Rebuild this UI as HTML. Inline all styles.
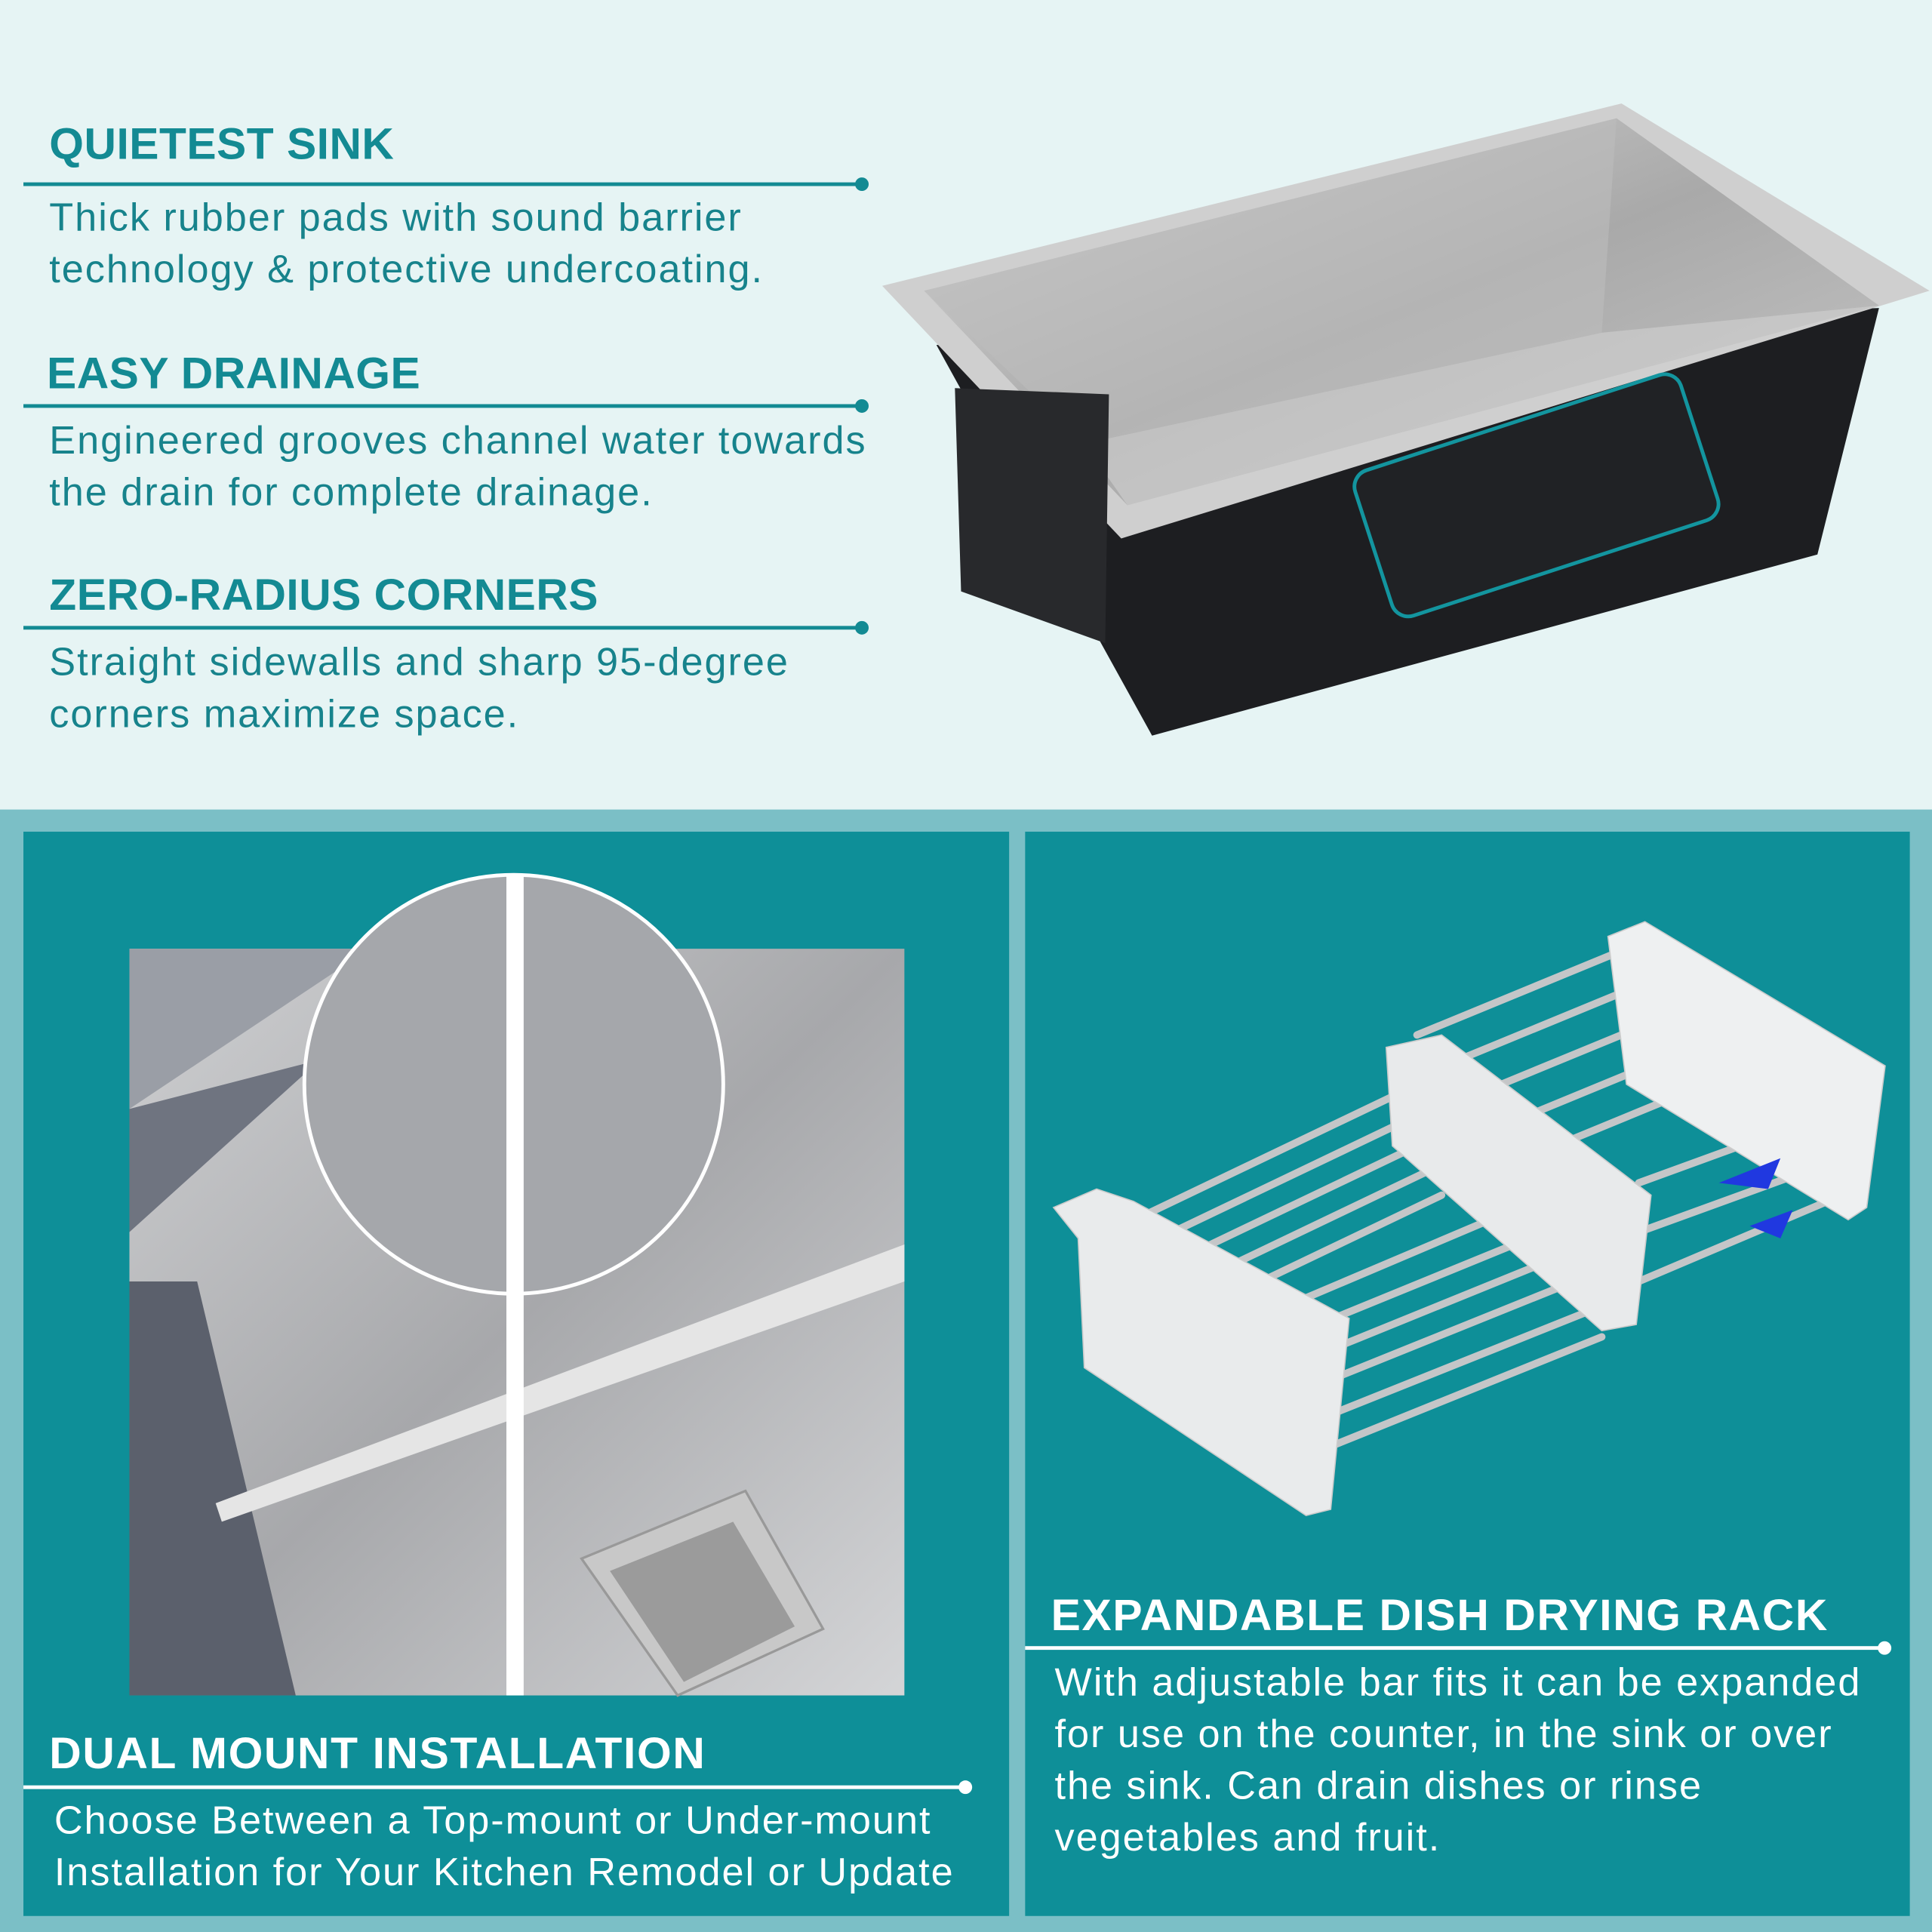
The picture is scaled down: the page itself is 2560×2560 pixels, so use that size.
<!DOCTYPE html>
<html><head><meta charset="utf-8"><style>
html,body{margin:0;padding:0;width:2560px;height:2560px;overflow:hidden;background:#e6f4f4}
#w{position:absolute;left:0;top:0;width:1568px;height:1568px;transform:scale(1.63265);transform-origin:0 0;font-family:"Liberation Sans",sans-serif}
.a{position:absolute;white-space:nowrap}
.h{font-weight:bold;font-size:36px;color:#138a93;letter-spacing:0.3px}
.b{font-size:32px;line-height:42px;color:#17838c;letter-spacing:1.2px}
.ln{position:absolute;height:3px;background:#138a93}
.dot{position:absolute;width:11px;height:11px;border-radius:50%;background:#138a93}
.hw{font-weight:bold;font-size:36px;color:#fff;letter-spacing:1px}
.bw{font-size:32px;line-height:42px;color:#fff;letter-spacing:1.2px}
.lw{position:absolute;height:3px;background:#fff}
.dw{position:absolute;width:11px;height:11px;border-radius:50%;background:#fff}
</style></head><body><div id="w">
<div class="a h" style="left:40px;top:96px">QUIETEST SINK</div>
<div class="ln" style="left:19px;top:148px;width:680px"></div><div class="dot" style="left:694px;top:144px"></div>
<div class="a b" style="left:40px;top:155px">Thick rubber pads with sound barrier<br>technology &amp; protective undercoating.</div>
<div class="a h" style="left:38px;top:282px">EASY DRAINAGE</div>
<div class="ln" style="left:19px;top:328px;width:680px"></div><div class="dot" style="left:694px;top:324px"></div>
<div class="a b" style="left:40px;top:336px">Engineered grooves channel water towards<br>the drain for complete drainage.</div>
<div class="a h" style="left:40px;top:462px">ZERO-RADIUS CORNERS</div>
<div class="ln" style="left:19px;top:508px;width:680px"></div><div class="dot" style="left:694px;top:504px"></div>
<div class="a b" style="left:40px;top:516px">Straight sidewalls and sharp 95-degree<br>corners maximize space.</div>

<svg class="a" style="left:700px;top:70px" width="868" height="540" viewBox="700 70 868 540">
<defs><linearGradient id="st" x1="0" y1="0" x2="1" y2="1"><stop offset="0" stop-color="#d8d8d8"/><stop offset=".5" stop-color="#a9a9a9"/><stop offset="1" stop-color="#c8c8c8"/></linearGradient></defs>
<polygon points="760,280 1525,250 1475,450 935,597" fill="#1d1e21"/>
<polygon points="716,232 1316,84 1566,236 910,437" fill="#cfcfcf"/>
<polygon points="750,236 1312,96 1525,248 915,410" fill="url(#st)"/>
<polygon points="750,236 1312,96 1300,270 880,360" fill="#bdbdbd" opacity=".6"/>
<polygon points="880,360 1300,270 1525,248 915,410" fill="#d0d0d0" opacity=".6"/>
<rect x="1108" y="340" width="278" height="124" rx="14" transform="rotate(-18 1247 402)" fill="#202225" stroke="#13959f" stroke-width="3"/>
<polygon points="775,315 900,320 897,522 780,480" fill="#28292c"/>
</svg>

<div class="a" style="left:0;top:657px;width:1568px;height:911px;background:#7bbfc6"></div>
<div class="a" style="left:19px;top:675px;width:800px;height:880px;background:#0e8f98"></div>
<div class="a" style="left:832px;top:675px;width:718px;height:880px;background:#0e8f98"></div>

<svg class="a" style="left:105px;top:700px" width="640" height="680" viewBox="105 700 640 680">
<defs><linearGradient id="g2" x1="0" y1="0" x2="1" y2="1"><stop offset="0" stop-color="#cfd0d2"/><stop offset=".5" stop-color="#a7a8ab"/><stop offset="1" stop-color="#d4d5d7"/></linearGradient></defs>
<rect x="105" y="770" width="629" height="606" fill="url(#g2)"/>
<polygon points="105,770 300,770 105,900" fill="#9a9ea6"/>
<polygon points="105,900 260,860 105,1000" fill="#6f7480"/>
<polygon points="105,1040 160,1040 240,1376 105,1376" fill="#5b606c"/>
<polygon points="175,1220 734,1010 734,1040 180,1235" fill="#e5e5e5"/>
<polygon points="472,1265 605,1210 668,1322 550,1376" fill="#c8c8c8" stroke="#999" stroke-width="2"/>
<polygon points="495,1275 595,1235 645,1320 555,1365" fill="#9b9b9b"/>
<circle cx="417" cy="880" r="170" fill="#a5a7ab" stroke="#fff" stroke-width="3"/>
<rect x="411" y="710" width="14" height="666" fill="#fff"/>
</svg>

<svg class="a" style="left:850px;top:740px" width="690" height="500" viewBox="850 740 690 500">
<g stroke="#c4c6c8" stroke-width="6" stroke-linecap="round">
<line x1="1150" y1="840" x2="1320" y2="770"/><line x1="1160" y1="870" x2="1330" y2="800"/>
<line x1="1170" y1="900" x2="1340" y2="830"/><line x1="1180" y1="930" x2="1350" y2="860"/>
<line x1="1190" y1="960" x2="1360" y2="890"/><line x1="1330" y1="960" x2="1495" y2="900"/>
<line x1="1330" y1="1000" x2="1495" y2="940"/><line x1="1330" y1="1040" x2="1495" y2="970"/>
<line x1="900" y1="1000" x2="1130" y2="890"/><line x1="910" y1="1020" x2="1140" y2="910"/>
<line x1="920" y1="1040" x2="1150" y2="930"/><line x1="930" y1="1060" x2="1160" y2="950"/>
<line x1="940" y1="1080" x2="1170" y2="970"/><line x1="950" y1="1100" x2="1280" y2="960"/>
<line x1="960" y1="1120" x2="1290" y2="985"/><line x1="970" y1="1140" x2="1290" y2="1010"/>
<line x1="980" y1="1160" x2="1290" y2="1035"/><line x1="1000" y1="1180" x2="1300" y2="1060"/>
<line x1="1040" y1="1190" x2="1300" y2="1085"/>
</g>
<polygon points="1305,760 1335,748 1530,865 1515,980 1500,990 1320,880" fill="#eef0f1" stroke="#ccc"/>
<polygon points="1125,850 1170,840 1340,970 1328,1075 1300,1080 1130,930" fill="#e8eaeb" stroke="#ccc"/>
<polygon points="855,980 890,965 920,975 1095,1070 1080,1225 1060,1230 880,1110 875,1005" fill="#e9ebec" stroke="#ccc"/>
<polygon points="1395,960 1445,940 1435,965" fill="#2038e0"/>
<polygon points="1420,995 1455,982 1445,1005" fill="#2038e0"/>
</svg>

<div class="a hw" style="left:40px;top:1402px">DUAL MOUNT INSTALLATION</div>
<div class="lw" style="left:19px;top:1449px;width:765px"></div><div class="dw" style="left:778px;top:1445px"></div>
<div class="a bw" style="left:44px;top:1456px">Choose Between a Top-mount or Under-mount<br>Installation for Your Kitchen Remodel or Update</div>

<div class="a hw" style="left:853px;top:1290px">EXPANDABLE DISH DRYING RACK</div>
<div class="lw" style="left:832px;top:1336px;width:698px"></div><div class="dw" style="left:1524px;top:1332px"></div>
<div class="a bw" style="left:856px;top:1344px">With adjustable bar fits it can be expanded<br>for use on the counter, in the sink or over<br>the sink. Can drain dishes or rinse<br>vegetables and fruit.</div>
</div></body></html>
